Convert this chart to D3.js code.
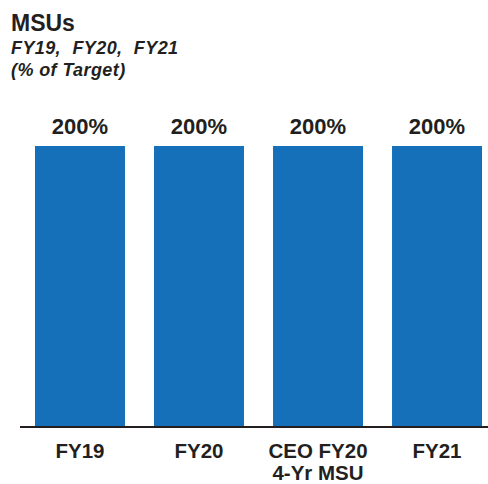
<!DOCTYPE html>
<html>
<head>
<meta charset="utf-8">
<script src="https://cdn.jsdelivr.net/npm/d3@7"></script>
<style>
  body { margin: 0; background: #fff; }
  text { font-family: "Liberation Sans", Arial, sans-serif; fill: #231f20; }
</style>
</head>
<body>
<div id="chart"></div>
<script>
const categories = [["FY19"], ["FY20"], ["CEO FY20", "4-Yr MSU"], ["FY21"]];
const values = [200, 200, 200, 200];
const valueLabels = ["200%", "200%", "200%", "200%"];
const titleLines = ["MSUs"];
const subtitleLines = ["FY19, FY20, FY21", "(% of Target)"];

(function msus(){
    let width = 488, height = 484;

    const svg = d3.select("#chart")
      .append("svg")
      .attr("width", width)
      .attr("height", height);

    // Title
    svg.append("text")
      .attr("x", 11).attr("y", 31)
      .style("font-size", "23px").style("font-weight", "bold")
      .text(titleLines[0]);

    svg.selectAll("text.sub")
      .data(subtitleLines)
      .join("text")
      .classed("sub", true)
      .attr("x", 11)
      .attr("y", (d, i) => 54 + i * 22)
      .style("font-size", "18px").style("font-weight", "bold").style("font-style", "italic")
      .style("letter-spacing", "0.4px")
      .style("word-spacing", (d, i) => i === 0 ? "6px" : "0px")
      .text(d => d);

    // Scales
    let xScale = d3.scaleBand()
      .domain(d3.range(categories.length))
      .range([35, 482])
      .paddingInner(0.244)
      .paddingOuter(0);

    let yScale = d3.scaleLinear()
      .domain([0, 200])
      .range([426, 146]);

    // Bars
    svg.selectAll("rect.bar")
      .data(values)
      .join("rect")
      .classed("bar", true)
      .attr("x", (d, i) => xScale(i))
      .attr("y", d => yScale(d))
      .attr("width", xScale.bandwidth())
      .attr("height", d => yScale(0) - yScale(d))
      .attr("fill", "#1570b9");

    // Value labels
    svg.selectAll("text.val")
      .data(values)
      .join("text")
      .classed("val", true)
      .attr("x", (d, i) => xScale(i) + xScale.bandwidth() / 2)
      .attr("y", d => yScale(d) - 12)
      .attr("text-anchor", "middle")
      .style("font-size", "22px").style("font-weight", "bold")
      .text((d, i) => valueLabels[i]);

    // Baseline
    svg.append("line")
      .attr("x1", 20).attr("x2", 488)
      .attr("y1", yScale(0) + 1).attr("y2", yScale(0) + 1)
      .attr("stroke", "#231f20")
      .attr("stroke-width", 2);

    // Category labels
    const cat = svg.selectAll("text.cat")
      .data(categories)
      .join("text")
      .classed("cat", true)
      .attr("x", (d, i) => xScale(i) + xScale.bandwidth() / 2)
      .attr("y", 458)
      .attr("text-anchor", "middle")
      .style("font-size", "20.5px").style("font-weight", "bold");

    cat.selectAll("tspan")
      .data(d => d)
      .join("tspan")
      .attr("x", function() { return this.parentNode.getAttribute("x"); })
      .attr("dy", (d, i) => i === 0 ? 0 : 21.5)
      .text(d => d);
})();
</script>
</body>
</html>
